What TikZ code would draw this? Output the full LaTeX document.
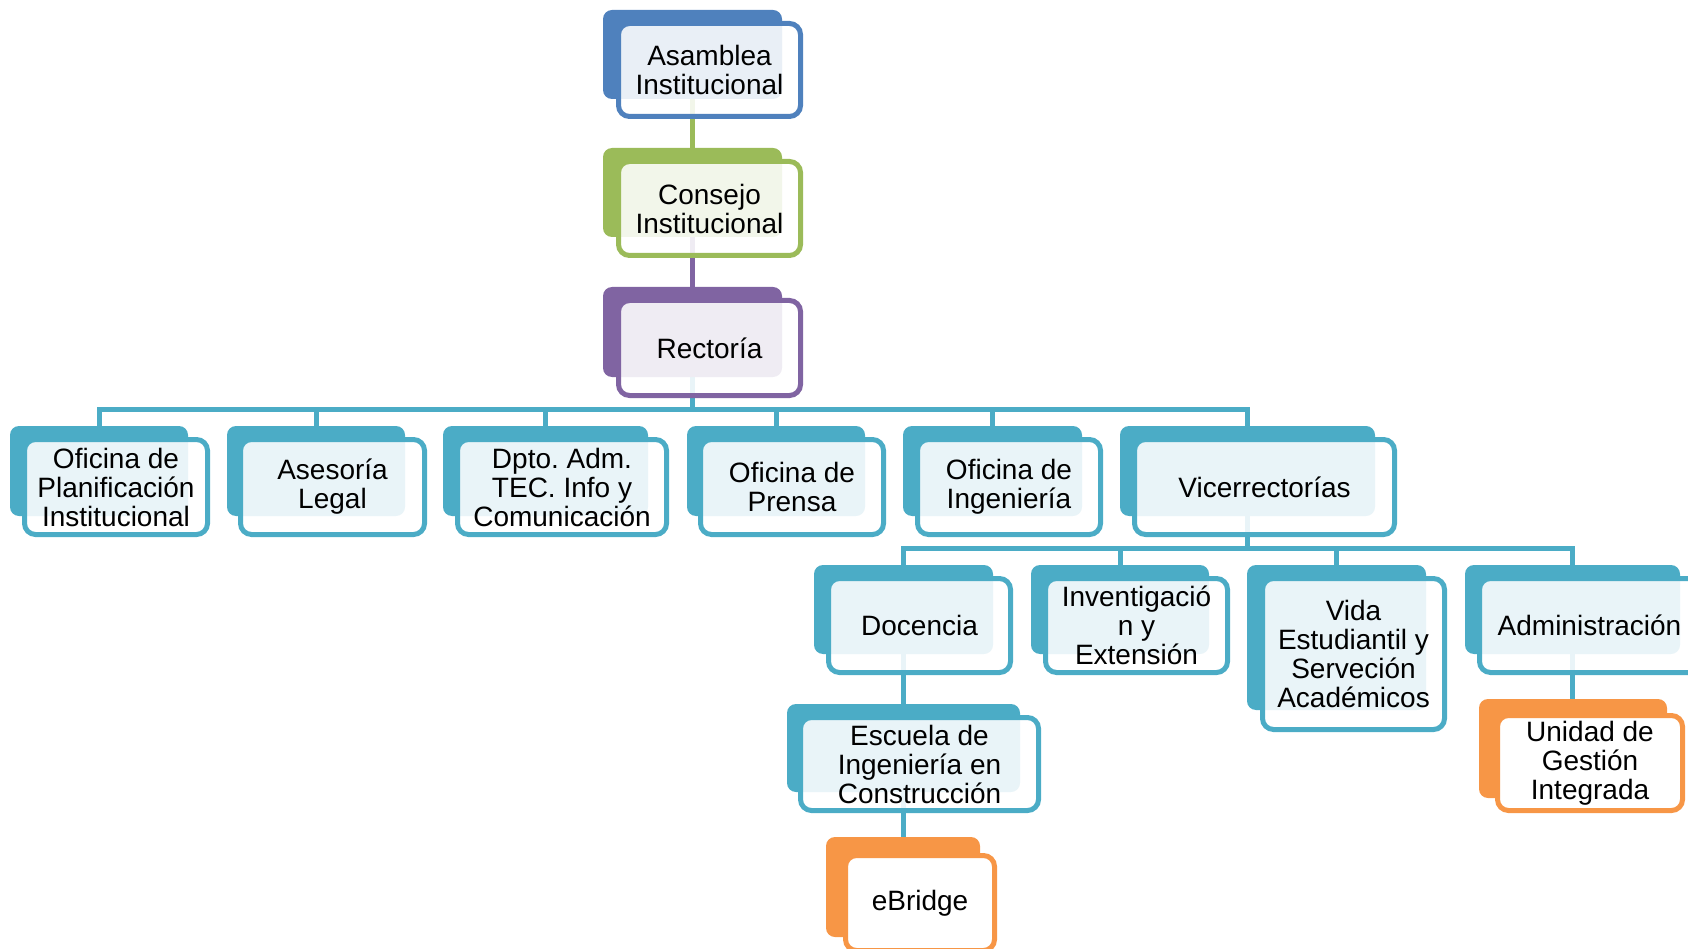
\documentclass[tikz,border=0pt]{standalone}
\usepackage{fontspec}
\setmainfont{Liberation Sans}
\usetikzlibrary{fit,backgrounds}
\definecolor{cblue}{HTML}{4F81BD}
\definecolor{cgreen}{HTML}{9BBB59}
\definecolor{cpurple}{HTML}{8064A2}
\definecolor{cteal}{HTML}{4BACC6}
\definecolor{corange}{HTML}{F79646}
\newcommand\orgfont{\fontsize{28}{29}\selectfont\frenchspacing}
\tikzset{
  backbox/.style={rounded corners=9pt, inner sep=0pt, outer sep=0pt},
  frontbox/.style={rounded corners=11pt, line width=5pt, fill=white, fill opacity=0.88,
    inner sep=-2.5pt, outer sep=0pt},
  solidfront/.style={fill opacity=1},
  labeltext/.style={align=center, font=\orgfont, inner sep=0pt},
  conn/.style={line width=5pt},
}
\newcommand\orgbox[6][]{%
  \node[backbox, fill=#3, fit={#4}] (#2B) {};
  \node[frontbox, draw=#3, fit={#5}, #1] (#2) {};
  \node[labeltext] (#2T) at (#2.center) {#6};
}
\begin{document}
\begin{tikzpicture}[x=1pt,y=-1pt]
\useasboundingbox (0,0) rectangle (1688,949);
\clip (0,0) rectangle (1688,949);
\coordinate (bar1) at (0,409);
\coordinate (bar2) at (0,548.5);
% level 1-3
\orgbox{asam}{cblue}{(603,10) (782,99)}{(616,21) (803,119)}{Asamblea\\Institucional}
\orgbox{cons}{cgreen}{(603,148) (782,237)}{(616,159) (803,258)}{Consejo\\Institucional}
\orgbox{rect}{cpurple}{(603,287) (782,377)}{(616,298) (803,398)}{Rectoría}
% row 3
\orgbox{ofpl}{cteal}{(10,426) (188,516)}{(22,437) (210,537)}{Oficina de\\Planificación\\Institucional}
\orgbox{ases}{cteal}{(227,426) (405,516)}{(238,437) (427,537)}{Asesoría\\Legal}
\orgbox{dpto}{cteal}{(443,426) (648,516)}{(455,437) (669,537)}{Dpto. Adm.\\TEC. Info y\\Comunicación}
\orgbox{pren}{cteal}{(687,426) (865,516)}{(698,437) (886,537)}{Oficina de\\Prensa}
\orgbox{inge}{cteal}{(903,426) (1082,516)}{(915,437) (1103,537)}{Oficina de\\Ingeniería}
\orgbox{vice}{cteal}{(1120,426) (1375,516)}{(1132,437) (1397,537)}{Vicerrectorías}
% row 4
\orgbox{doce}{cteal}{(814,565) (993,654)}{(826,576) (1013,675)}{Docencia}
\orgbox{inve}{cteal}{(1031,565) (1209,654)}{(1043,576) (1230,675)}{Inventigació\\n y\\Extensión}
\orgbox{vida}{cteal}{(1247,565) (1426,710)}{(1260,576) (1447,732)}{Vida\\Estudiantil y\\Serveción\\Académicos}
\orgbox{admi}{cteal}{(1465,565) (1680,654)}{(1477,576) (1702,675)}{Administración}
% row 5-6
\orgbox{escu}{cteal}{(787,704) (1020,792)}{(798,715) (1041,813)}{Escuela de\\Ingeniería en\\Construcción}
\orgbox[solidfront]{unid}{corange}{(1479,699) (1667,798)}{(1495,713) (1685,813)}{Unidad de\\Gestión\\Integrada}
\orgbox[solidfront]{ebri}{corange}{(826,837) (980,937)}{(843,853) (997,953)}{eBridge}
% connectors
\begin{pgfonlayer}{background}
\draw[conn, cgreen] (asamB.south) -- (asamB.south |- consB.north);
\draw[conn, cpurple] (consB.south) -- (consB.south |- rectB.north);
\draw[conn, cteal] (rectB.south) -- (rectB.south |- bar1);
\foreach \c in {ofpl,ases,dpto,pren,inge,vice}
  \draw[conn, cteal] (rectB.south |- bar1) -| (\c B.north);
\draw[conn, cteal] (viceB.south) -- (viceB.south |- bar2);
\foreach \c in {doce,inve,vida,admi}
  \draw[conn, cteal] (viceB.south |- bar2) -| (\c B.north);
\draw[conn, cteal] (doceB.south) -- (doceB.south |- escuB.north);
\draw[conn, cteal] (escuB.south) -- (escuB.south |- ebriB.north);
\draw[conn, cteal] (admiB.south) -- (admiB.south |- unidB.north);
\end{pgfonlayer}
\end{tikzpicture}
\end{document}
